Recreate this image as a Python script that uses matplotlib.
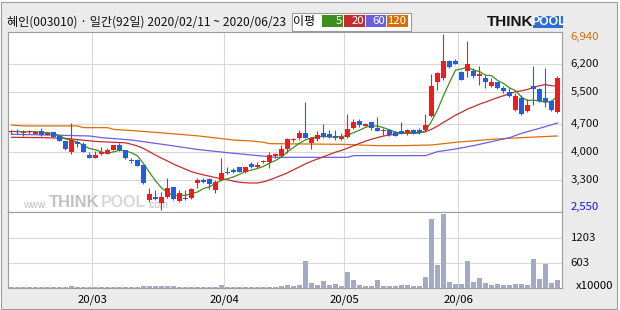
import numpy as np
import pandas as pd
import matplotlib
matplotlib.use('Agg')
import matplotlib.pyplot as plt
from matplotlib.patches import Rectangle

plt.rcParams['font.family'] = ['Noto Sans CJK KR', 'DejaVu Sans']

# 혜인(003010) 일봉 2020/02/11 ~ 2020/06/23 (92 거래일)
opens = [4500, 4510, 4480, 4500, 4455, 4520, 4420, 4490, 4405, 4270,
         4005, 4240, 4195, 3920, 3840, 3940, 3955, 4045, 4170, 4040,
         3780, 3800, 3670, 2800, 2885, 2715, 2885, 3115, 2775, 2860,
         2840, 3230, 3300, 3325, 3060, 3300, 3510, 3550, 3625, 3490,
         3690, 3630, 3750, 3755, 3905, 3905, 4064, 4290, 4340, 4465,
         4230, 4320, 4465, 4445, 4395, 4313, 4380, 4605, 4770, 4655,
         4737, 4605, 4515, 4540, 4490, 4520, 4460, 4535, 4535, 4537,
         4903, 5735, 5835, 6267, 6275, 6000, 6026, 6017, 5901, 5851,
         5652, 5735, 5602, 5502, 5045, 5352, 5020, 5643, 5560, 5336,
         5270, 4986]
highs = [4550, 4560, 4545, 4545, 4520, 4590, 4490, 4500, 4420, 4275,
         4730, 4290, 4255, 4005, 4020, 4115, 4090, 4180, 4215, 4040,
         3840, 3810, 3680, 3090, 3060, 2990, 3340, 3120, 3050, 3050,
         3090, 3340, 3360, 3360, 3300, 3840, 3630, 3590, 3630, 3630,
         3755, 3755, 3800, 3990, 3980, 4170, 4355, 4355, 4540, 5235,
         4380, 4520, 4695, 4545, 4545, 4460, 4935, 4810, 4810, 4720,
         4755, 4870, 4590, 4570, 4520, 4737, 4570, 4570, 4590, 4945,
         5934, 6000, 6940, 6292, 6308, 6010, 6765, 6100, 6150, 5918,
         5835, 5751, 5643, 5602, 5460, 5419, 5311, 6150, 5585, 6084,
         5294, 5901]
lows = [4440, 4440, 4405, 4455, 4450, 4405, 4410, 4360, 4260, 4050,
        3950, 4130, 4000, 3855, 3835, 3925, 3955, 4040, 4030, 3815,
        3715, 3650, 3210, 2760, 2800, 2550, 2860, 2810, 2740, 2810,
        2825, 3110, 3215, 3065, 2985, 3280, 3450, 3465, 3490, 3465,
        3590, 3590, 3715, 3605, 3840, 3880, 3965, 4240, 4297, 4335,
        4070, 4270, 4340, 4340, 4295, 4295, 4355, 4570, 4630, 4635,
        4545, 4520, 4420, 4395, 4395, 4440, 4420, 4445, 4440, 4520,
        4878, 5544, 5793, 6084, 6184, 5790, 5876, 5850, 5668, 5602,
        5627, 5560, 5460, 5361, 5020, 4920, 4986, 5170, 5236, 5128,
        5020, 4961]
closes = [4510, 4500, 4490, 4510, 4505, 4420, 4480, 4370, 4270, 4065,
          4295, 4190, 4005, 3855, 3925, 4005, 4045, 4170, 4045, 3855,
          3770, 3655, 3215, 2940, 2815, 2875, 3090, 2815, 2985, 2815,
          3075, 3300, 3260, 3190, 3240, 3480, 3465, 3505, 3505, 3615,
          3630, 3675, 3760, 3920, 3940, 4064, 4320, 4300, 4465, 4340,
          4340, 4420, 4380, 4370, 4355, 4380, 4560, 4737, 4670, 4705,
          4590, 4520, 4525, 4420, 4405, 4455, 4535, 4480, 4480, 4670,
          5643, 5960, 6267, 6117, 6200, 5793, 6184, 5901, 5943, 5735,
          5751, 5585, 5519, 5394, 5394, 4937, 5170, 5560, 5270, 5253,
          5045, 5851]
# 거래량 (x10000)
volumes = [25, 25, 25, 25, 25, 25, 25, 25, 25, 25,
           50, 25, 25, 25, 25, 25, 25, 25, 25, 25,
           25, 25, 45, 45, 45, 45, 45, 45, 25, 25,
           25, 25, 25, 25, 25, 60, 25, 25, 25, 25,
           25, 25, 25, 25, 25, 55, 80, 40, 64, 643,
           120, 64, 169, 72, 88, 40, 386, 185, 64, 40,
           40, 185, 40, 40, 40, 64, 64, 40, 40, 257,
           1656, 547, 1777, 137, 88, 88, 643, 145, 233, 113,
           64, 88, 64, 64, 88, 88, 64, 691, 209, 579,
           120, 185]

# 이동평균: 차트 앞부분은 이전 데이터가 필요해서 그림에서 읽은 값
ma20_early_idx = [0, 5, 9, 14]
ma20_early = [4363, 4355, 4338, 4260]
ma60_idx = [0, 6, 13, 15, 20, 26, 31, 37, 40, 44, 56, 57, 69, 71, 74, 77, 80, 83, 85, 88, 91]
ma60 = [4438, 4421, 4396, 4355, 4296, 4170, 4060, 3964, 3922, 3864, 3864, 3906, 3906,
        4005, 4072, 4155, 4255, 4355, 4463, 4587, 4720]
ma120_idx = [0, 2, 11, 12, 16, 17, 21, 26, 31, 37, 40, 42, 43, 55, 61, 65, 70, 74, 80, 85, 91]
ma120 = [4670, 4646, 4646, 4604, 4604, 4562, 4521, 4463, 4400, 4296, 4271, 4240, 4205,
         4188, 4155, 4155, 4172, 4238, 4313, 4355, 4396]

month_labels = ['20/03', '20/04', '20/05', '20/06']
month_first_idx = [14, 36, 56, 75]
price_ticks = [6200, 5500, 4700, 4000, 3300]
vol_ticks = [603, 1203]

c_up = '#ee1c1c'
c_dn = '#1f5fe0'
c_ma5 = '#3c8f1f'
c_ma20 = '#c42d2d'
c_ma60 = '#6b5ee0'
c_ma120 = '#d96e08'
c_grid = '#d8d8d8'
c_edge = '#9c9c9c'

o = np.array(opens); h = np.array(highs); l = np.array(lows); c = np.array(closes)
x = np.arange(len(c))
ma5 = pd.Series(c).rolling(5, min_periods=1).mean().values
ma20_calc = pd.Series(c).rolling(20).mean().values
ma20_x = ma20_early_idx + list(x[19:])
ma20_y = ma20_early + list(ma20_calc[19:])

fig = plt.figure(figsize=(6.2, 3.1), dpi=100)
fig.patch.set_facecolor('white')

# 배경 / 상단 정보 (픽셀 좌표)
bg = fig.add_axes([0, 0, 1, 1])
bg.set_xlim(0, 620)
bg.set_ylim(310, 0)
bg.axis('off')
bg.add_patch(Rectangle((1, 1.5), 616, 307, facecolor='#ebebeb', edgecolor=c_edge, lw=0.8))
bg.text(7, 22, '혜인(003010) · 일간(92일) 2020/02/11 ~ 2020/06/23', fontsize=8.7,
        va='center', ha='left', color='#111111')
bg.add_patch(Rectangle((291.5, 12.5), 119, 18, facecolor='white', edgecolor=c_edge, lw=0.8))
bg.text(293.5, 21.5, '이평', fontsize=8.6, va='center', ha='left')
for x0, w, lab, col in [(321.7, 21, '5', c_ma5), (344.3, 20.7, '20', c_ma20),
                        (366.3, 19.7, '60', c_ma60), (387.3, 21, '120', c_ma120)]:
    bg.add_patch(Rectangle((x0, 15.3), w, 11.4, facecolor=col, edgecolor='none'))
    bg.text(x0 + w - 1, 21.3, lab, fontsize=8.2, color='white', va='center', ha='right')
# THINKPOOL 로고
bg.text(533, 22.5, 'THINK', fontsize=11, fontweight='bold', family='Liberation Sans',
        va='center', ha='right', color='#151515')
bg.add_patch(Rectangle((533, 15.5), 30, 12, facecolor='#2a6fd8', edgecolor='none'))
bg.text(548, 22, 'POOL', fontsize=8.8, fontweight='bold', family='Liberation Sans',
        va='center', ha='center', color='white')
bg.text(595, 286, 'x10000', fontsize=8.2, va='center', ha='center')

# 가격 차트
ax = fig.add_axes([8/620, 98/310, 554/620, 180/310])
ax.set_facecolor('white')
ax.set_xlim(-0.58, 91.75)
ax.set_ylim(2500, 6990)
for v in price_ticks:
    ax.axhline(v, color=c_grid, lw=0.8, zorder=0)
for i in month_first_idx:
    ax.axvline(i - 0.5, color=c_grid, lw=0.8, zorder=0)

# 워터마크
wm = dict(transform=ax.transAxes, va='bottom', ha='left', zorder=1, family='Liberation Sans')
ax.text(15/554, 0.01, 'www.', fontsize=7.3, color='#bdbdbd', **wm)
ax.text(41/554, 0.01, 'THINK', fontsize=12, fontweight='bold', color='#c2c2c2', **wm)
ax.text(93/554, 0.01, 'POOL', fontsize=11.5, fontweight='bold', color='#d8d8d8', **wm)
ax.text(139/554, 0.01, '.com', fontsize=7, color='#bdbdbd', **wm)

up = c >= o
cols = np.where(up, c_up, c_dn)
ax.plot(ma120_idx, ma120, color=c_ma120, lw=0.9, zorder=2)
ax.plot(ma60_idx, ma60, color=c_ma60, lw=0.9, zorder=2)
ax.plot(ma20_x, ma20_y, color=c_ma20, lw=0.9, zorder=2)
ax.plot(x, ma5, color=c_ma5, lw=0.9, zorder=2)
ax.vlines(x, l, h, colors=cols, lw=0.8, zorder=3)
ax.bar(x, np.maximum(np.abs(c - o), 22), bottom=np.minimum(o, c), width=0.78,
       color=cols, linewidth=0, zorder=4)

ax.set_xticks([])
ax.set_yticks([])
for s in ax.spines.values():
    s.set_color(c_edge)
    s.set_linewidth(0.8)

lx = 1.016
ax.text(lx, 1.0, f'{h.max():,}', transform=ax.transAxes, va='top', ha='left',
        fontsize=8.2, color='#d96e08')
ax.text(lx, 0.0, f'{l.min():,}', transform=ax.transAxes, va='bottom', ha='left',
        fontsize=8.2, color='#1a1ad0')
for v in price_ticks:
    ax.text(lx, v, f'{v:,}', transform=ax.get_yaxis_transform(), va='center', ha='left',
            fontsize=8.2, color='#111111')

# 거래량 차트
axv = fig.add_axes([8/620, 22/310, 554/620, 76/310])
axv.set_facecolor('white')
axv.set_xlim(-0.58, 91.75)
axv.set_ylim(0, 1820)
for v in vol_ticks:
    axv.axhline(v, color=c_grid, lw=0.8, zorder=0)
for i in month_first_idx:
    axv.axvline(i - 0.5, color=c_grid, lw=0.8, zorder=0)
axv.bar(x, volumes, width=0.75, color='#a2abc3', linewidth=0, zorder=2)
axv.set_xticks([])
axv.set_yticks([])
for s in axv.spines.values():
    s.set_color(c_edge)
    s.set_linewidth(0.8)
for v in vol_ticks:
    axv.text(lx, v, str(v), transform=axv.get_yaxis_transform(), va='center', ha='left',
             fontsize=8.2, color='#111111')
for i, lab in zip(month_first_idx, month_labels):
    axv.text(i - 0.5, -0.16, lab, transform=axv.get_xaxis_transform(), va='center',
             ha='center', fontsize=8.2)

plt.savefig('out.png', dpi=100, facecolor=fig.get_facecolor())
